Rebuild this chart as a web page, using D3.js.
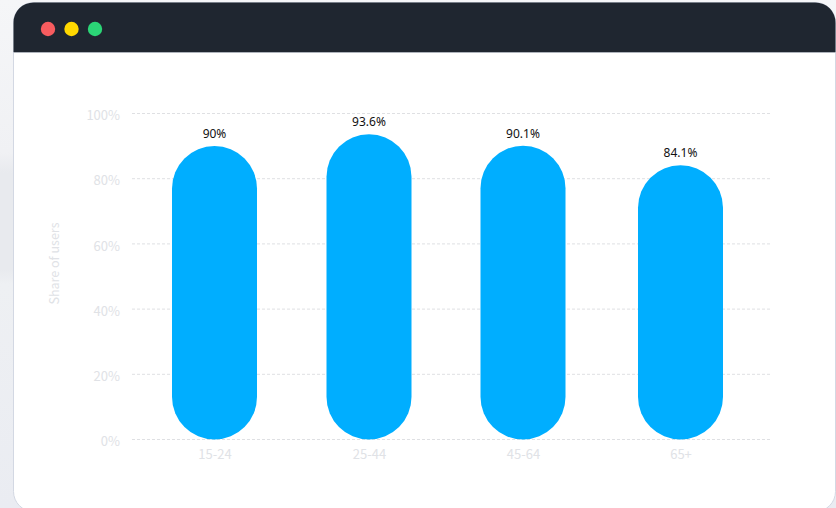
<!DOCTYPE html>
<html>
<head>
<meta charset="utf-8">
<script src="https://cdn.jsdelivr.net/npm/d3@7"></script>
<style>
  html, body { margin: 0; padding: 0; background: #fff; }
  svg { display: block; }
  text { font-family: "Noto Sans CJK SC", "Noto Sans", sans-serif; }
</style>
</head>
<body>
<svg id="chart" width="836" height="508"></svg>
<script>
const categories = ["15-24", "25-44", "45-64", "65+"];
const shares = [90, 93.6, 90.1, 84.1];
const shareLabels = ["90%", "93.6%", "90.1%", "84.1%"];
const yTicks = [0, 20, 40, 60, 80, 100];
const dotColors = ["#f75c5f", "#ffd800", "#2bd576"];
const backdropStops = [
  [0, "#f5f6f8"], [0.3, "#f0f1f4"], [0.34, "#e8eaee"], [0.53, "#e8eaee"],
  [0.56, "#eef0f3"], [1, "#eaecf2"]
];

const svg = d3.select("#chart");
const defs = svg.append("defs");

const backdrop = defs.append("linearGradient")
  .attr("id", "backdrop").attr("x1", 0).attr("y1", 0).attr("x2", 0).attr("y2", 1);
backdrop.selectAll("stop").data(backdropStops).join("stop")
  .attr("offset", d => d[0]).attr("stop-color", d => d[1]);

svg.append("rect").attr("width", 836).attr("height", 508).attr("fill", "url(#backdrop)");

// Browser window frame: white body with a dark rounded title bar
const win = { x: 13.5, y: 2.5, w: 822, h: 509, r: 20, bar: 49.5 };
svg.append("rect")
  .attr("x", win.x).attr("y", win.y).attr("width", win.w).attr("height", win.h)
  .attr("rx", win.r)
  .attr("fill", "#fff").attr("stroke", "#d3d8e3").attr("stroke-width", 1);

svg.append("path")
  .attr("d", `M${win.x},${win.y + win.bar}V${win.y + win.r}` +
    `a${win.r},${win.r} 0 0 1 ${win.r},${-win.r}H${win.x + win.w - win.r}` +
    `a${win.r},${win.r} 0 0 1 ${win.r},${win.r}V${win.y + win.bar}Z`)
  .attr("fill", "#1f2630");

svg.append("line")
  .attr("x1", win.x).attr("x2", win.x + win.w)
  .attr("y1", win.y + win.bar + 0.5).attr("y2", win.y + win.bar + 0.5)
  .attr("stroke", "#aeb3bb").attr("stroke-width", 1);

svg.append("g").selectAll("circle").data(dotColors).join("circle")
  .attr("cx", (d, i) => 48 + i * 23.5)
  .attr("cy", 29)
  .attr("r", 7.2)
  .attr("fill", d => d);

// Plot scales
const y = d3.scaleLinear().domain([0, 100]).range([439.5, 113.5]);
const x = d3.scaleOrdinal().domain(categories).range([214.5, 369, 523, 680.5]);
const barWidth = 85;
const gridLeft = 132, gridRight = 771;
const axisFont = '"Noto Sans CJK SC", "Noto Sans", sans-serif';

const yAxis = d3.axisLeft(y).tickValues(yTicks).tickFormat(d => d + "%").tickSize(0).tickPadding(12);
const yG = svg.append("g").attr("transform", `translate(${gridLeft},2)`).call(yAxis);
yG.select(".domain").remove();
yG.selectAll("text").attr("fill", "#e0e2e6").attr("font-size", 13)
  .style("font-family", axisFont);

// Dashed horizontal gridlines
svg.append("g").selectAll("line").data(yTicks).join("line")
  .attr("x1", gridLeft).attr("x2", gridRight)
  .attr("y1", d => y(d)).attr("y2", d => y(d))
  .attr("stroke", "#dfe0e3").attr("stroke-width", 1).attr("stroke-dasharray", "3 2");

const xAxis = d3.axisBottom(x).tickSize(0).tickPadding(10);
const xG = svg.append("g").attr("transform", `translate(0,${y(0)})`).call(xAxis);
xG.select(".domain").remove();
xG.selectAll("text").attr("fill", "#e0e2e6").attr("font-size", 13)
  .style("font-family", axisFont);

// Pill-shaped bars
svg.append("g").selectAll("rect").data(shares).join("rect")
  .attr("x", (d, i) => x(categories[i]) - barWidth / 2)
  .attr("y", d => y(d))
  .attr("width", barWidth)
  .attr("height", d => y(0) - y(d))
  .attr("rx", barWidth / 2)
  .attr("fill", "#00aeff");

// Value labels above each bar
svg.append("g").selectAll("text").data(shares).join("text")
  .attr("x", (d, i) => x(categories[i]))
  .attr("y", d => y(d) - 8)
  .attr("text-anchor", "middle")
  .attr("font-size", 12)
  .attr("fill", "#111")
  .style("font-family", '"Noto Sans", sans-serif')
  .text((d, i) => shareLabels[i]);

svg.append("text")
  .attr("transform", `translate(59,${263.5}) rotate(-90)`)
  .attr("text-anchor", "middle")
  .attr("font-size", 12.5)
  .attr("fill", "#e0e2e6")
  .text("Share of users");
</script>
</body>
</html>
